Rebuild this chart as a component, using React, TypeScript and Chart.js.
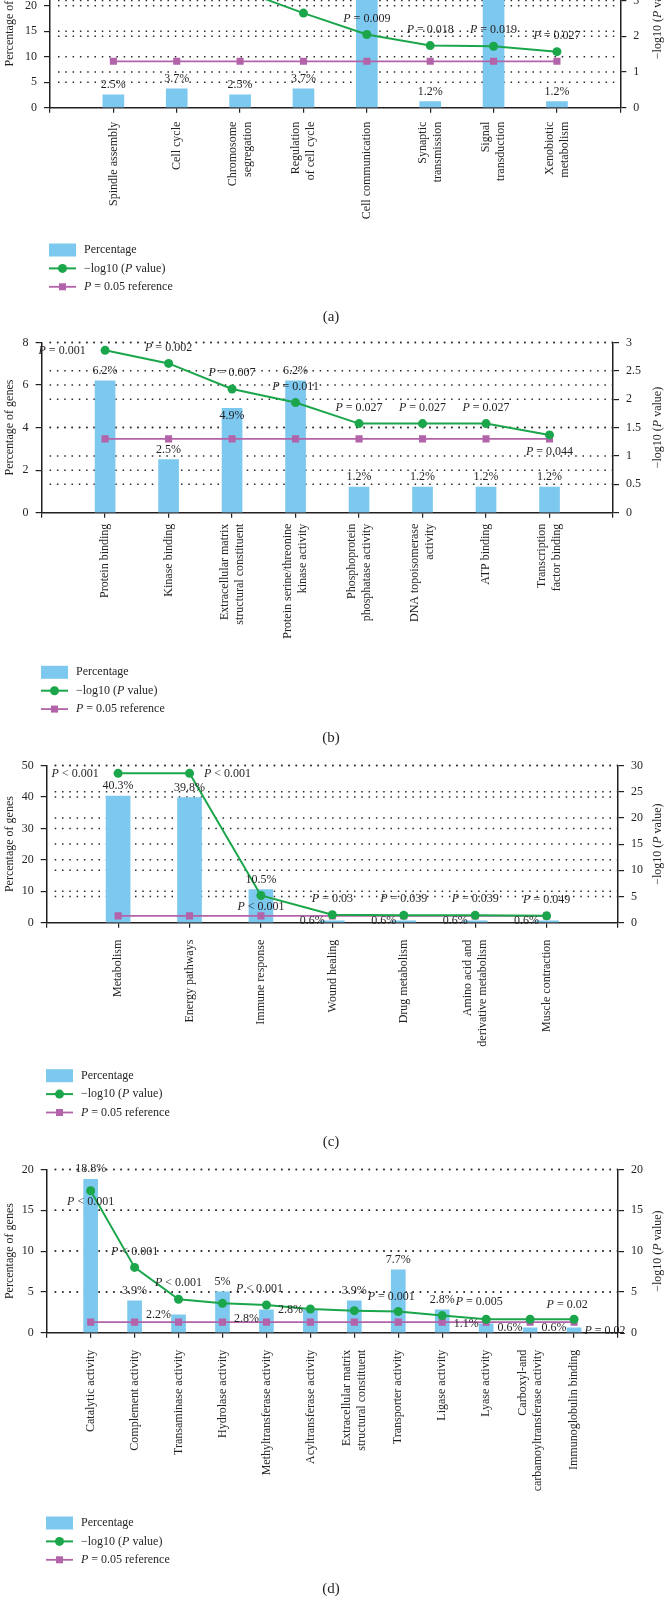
import React, { useEffect, useRef } from 'react';
import { Chart, registerables } from 'chart.js';

Chart.register(...registerables);

const FONT_FAMILY = '"Liberation Serif", "Times New Roman", Times, serif';
const INK = '#231F20';
const BAR_COLOR = '#7CC8EE';
const GREEN = '#1BA64B';
const PURPLE = '#B263A9';

type Cat = string | string[];

// ---------------- Panel (a) ----------------
const categoriesA: Cat[] = ['Spindle assembly', 'Cell cycle', ['Chromosome', 'segregation'], ['Regulation', 'of cell cycle'], 'Cell communication', ['Synaptic', 'transmission'], ['Signal', 'transduction'], ['Xenobiotic', 'metabolism']];
const percentA = [2.5, 3.7, 2.5, 3.7, 27.2, 1.2, 30.9, 1.2];
const logPA = [3.6, 4.0, 3.3, 2.65, 2.05, 1.74, 1.72, 1.57];
const refA = [1.3, 1.3, 1.3, 1.3, 1.3, 1.3, 1.3, 1.3];
const pTextA = ['P < 0.001', 'P < 0.001', 'P < 0.001', 'P = 0.002', 'P = 0.009', 'P = 0.018', 'P = 0.019', 'P = 0.027'];
const pctPlaceA = ['top', 'top', 'top', 'top', 'top', 'top', 'top', 'top'];
const pPlaceA = ['above', 'above', 'above', 'above', 'above', 'above', 'above', 'above'];

// ---------------- Panel (b) ----------------
const categoriesB: Cat[] = ['Protein binding', 'Kinase binding', ['Extracellular matrix', 'structural constituent'], ['Protein serine/threonine', 'kinase activity'], ['Phosphoprotein', 'phosphatase activity'], ['DNA topoisomerase', 'activity'], 'ATP binding', ['Transcription', 'factor binding']];
const percentB = [6.2, 2.5, 4.9, 6.2, 1.2, 1.2, 1.2, 1.2];
const logPB = [2.86, 2.63, 2.18, 1.94, 1.57, 1.57, 1.57, 1.37];
const refB = [1.3, 1.3, 1.3, 1.3, 1.3, 1.3, 1.3, 1.3];
const pTextB = ['P = 0.001', 'P = 0.002', 'P = 0.007', 'P = 0.011', 'P = 0.027', 'P = 0.027', 'P = 0.027', 'P = 0.044'];
const pctPlaceB = ['top', 'top', 'inside', 'top', 'top', 'top', 'top', 'top'];
const pPlaceB = ['left', 'above', 'above', 'above', 'above', 'above', 'above', 'belowFar'];

// ---------------- Panel (c) ----------------
const categoriesC: Cat[] = ['Metabolism', 'Energy pathways', 'Immune response', 'Wound healing', 'Drug metabolism', ['Amino acid and', 'derivative metabolism'], 'Muscle contraction'];
const percentC = [40.3, 39.8, 10.5, 0.6, 0.6, 0.6, 0.6];
const logPC = [28.5, 28.5, 5.2, 1.52, 1.41, 1.41, 1.31];
const refC = [1.3, 1.3, 1.3, 1.3, 1.3, 1.3, 1.3];
const pTextC = ['P < 0.001', 'P < 0.001', 'P < 0.001', 'P = 0.03', 'P = 0.039', 'P = 0.039', 'P = 0.049'];
const pctPlaceC = ['top', 'top', 'top', 'left', 'left', 'left', 'left'];
const pPlaceC = ['left', 'right', 'below', 'above', 'above', 'above', 'above'];

// ---------------- Panel (d) ----------------
const categoriesD: Cat[] = ['Catalytic activity', 'Complement activity', 'Transaminase activity', 'Hydrolase activity', 'Methyltransferase activity', 'Acyltransferase activity', ['Extracellular matrix', 'structural constituent'], 'Transporter activity', 'Ligase activity', 'Lyase activity', ['Carboxyl-and', 'carbamoyltransferase activity'], 'Immunoglobulin binding'];
const percentD = [18.8, 3.9, 2.2, 5, 2.8, 2.8, 3.9, 7.7, 2.8, 1.1, 0.6, 0.6];
const logPD = [17.4, 8.0, 4.1, 3.6, 3.4, 2.9, 2.7, 2.6, 2.1, 1.65, 1.65, 1.65];
const refD = [1.3, 1.3, 1.3, 1.3, 1.3, 1.3, 1.3, 1.3, 1.3, 1.3, 1.3, 1.3];
const pTextD = ['P < 0.001', 'P < 0.001', 'P < 0.001', 'P < 0.001', '', '', 'P = 0.001', '', 'P = 0.005', '', 'P = 0.02', 'P = 0.02'];
const pctPlaceD = ['top', 'top', 'left', 'top', 'lowLeft', 'left', 'top', 'top', 'top', 'left', 'left', 'left'];
const pPlaceD = ['below', 'above', 'above', 'upRight', '', '', 'upRight', '', 'upRight', '', 'upRight', 'downRight'];

const PCT_OFFSETS: Record<string, [number, number]> = {
  top: [0, -10], inside: [0, 7], left: [-20, 0], lowLeft: [-20, 9],
};
const P_OFFSETS: Record<string, [number, number]> = {
  above: [0, -16], below: [0, 11], belowFar: [0, 17], left: [-43, 0], right: [38, 0], upRight: [37, -14], downRight: [31, 12],
};

const font = (italic: boolean, size = 12) => `${italic ? 'italic ' : ''}${size}px ${FONT_FAMILY}`;

type Part = [string, boolean];

function richOf(text: string): Part[] {
  if (text.startsWith('P ')) return [['P', true], [text.slice(1), false]];
  return [[text, false]];
}

function drawRich(ctx: CanvasRenderingContext2D, parts: Part[], x: number, y: number, align: 'center' | 'left', size = 12) {
  const widths = parts.map(([s, it]) => { ctx.font = font(it, size); return ctx.measureText(s).width; });
  const total = widths.reduce((a, b) => a + b, 0);
  let cx = align === 'center' ? x - total / 2 : x;
  ctx.textAlign = 'left';
  ctx.textBaseline = 'middle';
  ctx.fillStyle = INK;
  parts.forEach(([s, it], i) => { ctx.font = font(it, size); ctx.fillText(s, cx, y); cx += widths[i]; });
}

interface PanelProps {
  cats: Cat[]; pct: number[]; logP: number[]; refLine: number[]; pText: string[]; pctPlace: string[]; pPlace: string[];
  yMax: number; yStep: number; y1Max: number; y1Step: number;
  canvasTop: number; height: number; left: number; right: number; plotTop: number; plotBottom: number;
  barW: number; labelGap: number; legendX: number; legendY: number; captionY: number; caption: string;
}

function Panel(p: PanelProps) {
  const ref = useRef<HTMLCanvasElement>(null);
  useEffect(() => {
    const canvas = ref.current!;
    const W = 666;
    const H = p.height;
    const off = p.canvasTop;
    const T = { l: p.left, r: p.right, t: p.plotTop - off, b: p.plotBottom - off };
    const pad = { left: 0, right: 0, top: 0, bottom: 0 };
    const labels = ['', ...p.cats.map(c => (Array.isArray(c) ? c.join(' ') : c)), ''];
    const wrap = (arr: number[]) => [null, ...arr, null];
    const tickFont = { family: FONT_FAMILY, size: 12 };
    const fmt = (v: any) => String(Math.round(Number(v) * 100) / 100);

    const decor = {
      id: 'decor',
      beforeDatasetsDraw(chart: any) {
        const { ctx, chartArea: ca } = chart;
        ctx.save();
        ctx.strokeStyle = '#2a2a2a';
        ctx.lineWidth = 1.5;
        ctx.setLineDash([1.5, 5.8]);
        [chart.scales.y, chart.scales.y1].forEach((s: any) => {
          s.ticks.forEach((t: any) => {
            if (t.value <= 0) return;
            const y = s.getPixelForValue(t.value);
            ctx.beginPath();
            ctx.moveTo(ca.left + 8, y);
            ctx.lineTo(ca.right, y);
            ctx.stroke();
          });
        });
        ctx.restore();
      },
      afterDraw(chart: any) {
        const { ctx, chartArea: ca } = chart;
        const xs = chart.scales.x;
        const ys = chart.scales.y;
        const y1s = chart.scales.y1;
        ctx.save();
        ctx.fillStyle = INK;
        // x category labels (rotated)
        p.cats.forEach((c, i) => {
          const lines = Array.isArray(c) ? c : [c];
          const x = xs.getPixelForValue(i + 1);
          lines.forEach((ln, j) => {
            const lx = x + (j - (lines.length - 1) / 2) * 15;
            ctx.save();
            ctx.translate(lx, ca.bottom + p.labelGap);
            ctx.rotate(-Math.PI / 2);
            ctx.font = font(false);
            ctx.textAlign = 'right';
            ctx.textBaseline = 'middle';
            ctx.fillText(ln, 0, 0);
            ctx.restore();
          });
        });
        // percentage labels
        p.pct.forEach((v, i) => {
          const place = p.pctPlace[i];
          if (!place) return;
          const [dx, dy] = PCT_OFFSETS[place];
          const x = xs.getPixelForValue(i + 1);
          const y = ys.getPixelForValue(v);
          drawRich(ctx, [[`${v}%`, false]], x + dx, y + dy, 'center');
        });
        // P value labels
        p.logP.forEach((v, i) => {
          const txt = p.pText[i];
          const place = p.pPlace[i];
          if (!txt || !place) return;
          const [dx, dy] = P_OFFSETS[place];
          const x = xs.getPixelForValue(i + 1);
          const y = y1s.getPixelForValue(v);
          drawRich(ctx, richOf(txt), x + dx, y + dy, 'center');
        });
        // axis titles
        const cy = (ca.top + ca.bottom) / 2;
        ctx.save();
        ctx.translate(10, cy);
        ctx.rotate(-Math.PI / 2);
        drawRich(ctx, [['Percentage of genes', false]], 0, 0, 'center');
        ctx.restore();
        ctx.save();
        ctx.translate(658, cy);
        ctx.rotate(-Math.PI / 2);
        drawRich(ctx, [['\u2212log10 (', false], ['P', true], [' value)', false]], 0, 0, 'center');
        ctx.restore();
        // legend
        const lx = p.legendX;
        const ly = p.legendY - off;
        const gap = 18.4;
        ctx.fillStyle = BAR_COLOR;
        ctx.fillRect(lx, ly - 6.5, 27, 13);
        drawRich(ctx, [['Percentage', false]], lx + 35, ly, 'left');
        const l2 = ly + gap;
        ctx.strokeStyle = GREEN;
        ctx.lineWidth = 2;
        ctx.beginPath(); ctx.moveTo(lx, l2); ctx.lineTo(lx + 27, l2); ctx.stroke();
        ctx.fillStyle = GREEN;
        ctx.beginPath(); ctx.arc(lx + 13.5, l2, 4.5, 0, Math.PI * 2); ctx.fill();
        drawRich(ctx, [['\u2212log10 (', false], ['P', true], [' value)', false]], lx + 35, l2, 'left');
        const l3 = ly + gap * 2;
        ctx.strokeStyle = PURPLE;
        ctx.lineWidth = 1.8;
        ctx.beginPath(); ctx.moveTo(lx, l3); ctx.lineTo(lx + 27, l3); ctx.stroke();
        ctx.fillStyle = PURPLE;
        ctx.fillRect(lx + 10, l3 - 3.5, 7, 7);
        drawRich(ctx, [['P', true], [' = 0.05 reference', false]], lx + 35, l3, 'left');
        // caption
        drawRich(ctx, [[p.caption, false]], 331, p.captionY - off, 'center', 15);
        ctx.restore();
      },
    };

    const chart = new Chart(canvas, {
      type: 'bar',
      data: {
        labels,
        datasets: [
          {
            type: 'line', data: wrap(p.logP), yAxisID: 'y1', borderColor: GREEN, backgroundColor: GREEN,
            borderWidth: 2, pointRadius: 4.5, pointStyle: 'circle', pointBackgroundColor: GREEN, pointBorderColor: GREEN,
            pointBorderWidth: 0, order: 1,
          } as any,
          {
            type: 'line', data: wrap(p.refLine), yAxisID: 'y1', borderColor: PURPLE, backgroundColor: PURPLE,
            borderWidth: 1.8, pointRadius: 5, pointStyle: 'rect', pointBackgroundColor: PURPLE, pointBorderColor: PURPLE,
            pointBorderWidth: 0, order: 2,
          } as any,
          {
            type: 'bar', data: wrap(p.pct), yAxisID: 'y', backgroundColor: BAR_COLOR, barThickness: p.barW, order: 3,
          } as any,
        ],
      },
      options: {
        responsive: false,
        animation: false,
        devicePixelRatio: 1,
        layout: { padding: { ...pad } },
        plugins: { legend: { display: false }, tooltip: { enabled: false } },
        scales: {
          x: {
            type: 'category', offset: false,
            grid: { offset: false, drawOnChartArea: false, drawTicks: true, tickLength: 5, color: INK, lineWidth: 1.2 },
            border: { color: INK, width: 1.5 },
            ticks: { display: false, autoSkip: false },
            afterFit: (s: any) => { s.height = H - T.b; },
          },
          y: {
            position: 'left', min: 0, max: p.yMax,
            ticks: { stepSize: p.yStep, font: tickFont, color: INK, padding: 7, callback: fmt },
            grid: { drawOnChartArea: false, drawTicks: true, tickLength: 6, color: INK, lineWidth: 1.2 },
            border: { color: INK, width: 1.5 },
            afterFit: (s: any) => { s.width = T.l; },
          },
          y1: {
            position: 'right', min: 0, max: p.y1Max,
            ticks: { stepSize: p.y1Step, font: tickFont, color: INK, padding: 7, callback: fmt },
            grid: { drawOnChartArea: false, drawTicks: true, tickLength: 6, color: INK, lineWidth: 1.2 },
            border: { color: INK, width: 1.5 },
            afterFit: (s: any) => { s.width = W - T.r; },
          },
        },
      } as any,
      plugins: [decor as any],
    });

    for (let k = 0; k < 3; k++) {
      const ca = chart.chartArea;
      const dl = T.l - ca.left, dr = ca.right - T.r, dt = T.t - ca.top, db = ca.bottom - T.b;
      if (Math.abs(dl) + Math.abs(dr) + Math.abs(dt) + Math.abs(db) < 0.05) break;
      pad.left += dl; pad.right += dr; pad.top += dt; pad.bottom += db;
      (chart.options as any).layout.padding = { ...pad };
      chart.update();
    }
    return () => chart.destroy();
  }, []);

  return (
    <canvas
      ref={ref}
      width={666}
      height={p.height}
      style={{ position: 'absolute', left: 0, top: p.canvasTop, width: 666, height: p.height }}
    />
  );
}

export default function App() {
  return (
    <div style={{ position: 'absolute', left: 0, top: 0, width: 666, height: 1612, background: '#fff', overflow: 'hidden' }}>
      <Panel
        cats={categoriesA} pct={percentA} logP={logPA} refLine={refA} pText={pTextA} pctPlace={pctPlaceA} pPlace={pPlaceA}
        yMax={35} yStep={5} y1Max={5} y1Step={1}
        canvasTop={-100} height={430} left={50} right={620.3} plotTop={-70.8} plotBottom={107.7}
        barW={21} labelGap={14} legendX={49} legendY={250} captionY={316.7} caption="(a)"
      />
      <Panel
        cats={categoriesB} pct={percentB} logP={logPB} refLine={refB} pText={pTextB} pctPlace={pctPlaceB} pPlace={pPlaceB}
        yMax={8} yStep={2} y1Max={3} y1Step={0.5}
        canvasTop={325} height={425} left={41.6} right={613} plotTop={345} plotBottom={512.7}
        barW={20} labelGap={11} legendX={41} legendY={672.3} captionY={738.3} caption="(b)"
      />
      <Panel
        cats={categoriesC} pct={percentC} logP={logPC} refLine={refC} pText={pTextC} pctPlace={pctPlaceC} pPlace={pPlaceC}
        yMax={50} yStep={10} y1Max={30} y1Step={5}
        canvasTop={746} height={410} left={46.7} right={618} plotTop={766.7} plotBottom={922.7}
        barW={24} labelGap={17} legendX={46} legendY={1075.7} captionY={1141.7} caption="(c)"
      />
      <Panel
        cats={categoriesD} pct={percentD} logP={logPD} refLine={refD} pText={pTextD} pctPlace={pctPlaceD} pPlace={pPlaceD}
        yMax={20} yStep={5} y1Max={20} y1Step={5}
        canvasTop={1150} height={462} left={46.7} right={618} plotTop={1170.7} plotBottom={1332.7}
        barW={14} labelGap={17} legendX={46} legendY={1523} captionY={1589.3} caption="(d)"
      />
    </div>
  );
}
